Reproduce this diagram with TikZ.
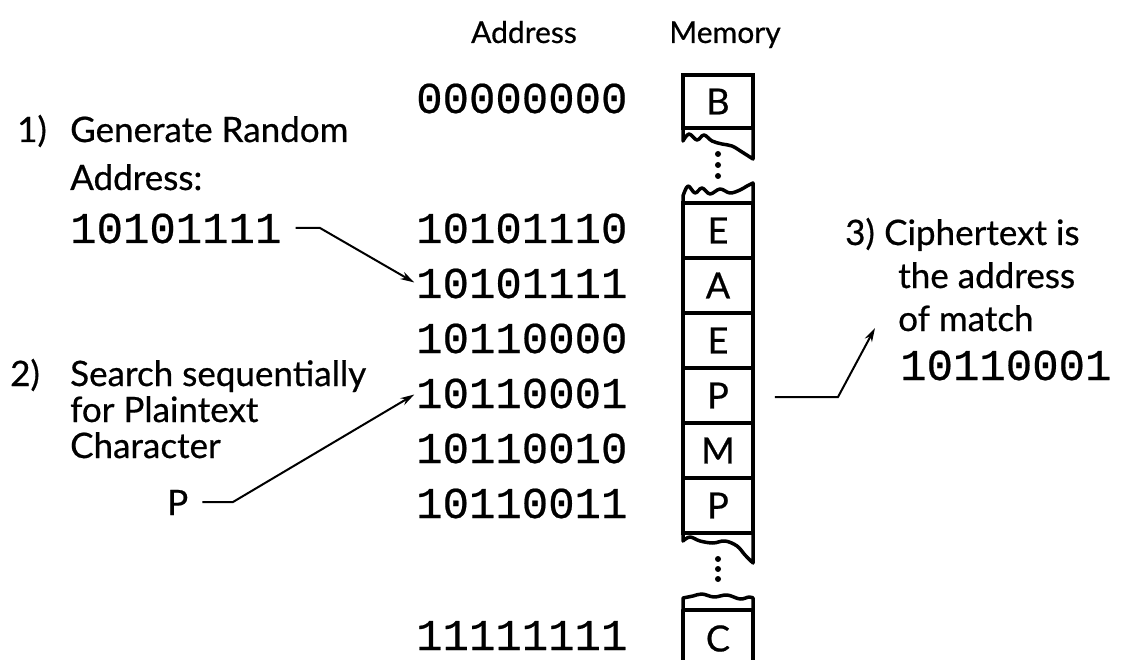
\documentclass[tikz,border=0pt]{standalone}
\usepackage{fontspec}
\setmainfont{Lato}[FakeBold=0.6]
\newfontfamily\digitfont{Liberation Mono}[FakeBold=0.5]
\usetikzlibrary{arrows.meta}

\begin{document}
\begin{tikzpicture}[x=1pt, y=-1pt,
    cell/.style={rectangle, draw, line width=3.5pt, minimum width=70pt,
                 minimum height=55pt, inner sep=0pt, font=\fontsize{36}{40}\selectfont},
    adr/.style={anchor=base west, inner sep=0pt, font=\digitfont\fontsize{44}{48}\selectfont},
    txt/.style={anchor=base west, inner sep=0pt, font=\fontsize{35}{40}\selectfont},
    head/.style={anchor=base, inner sep=0pt, font=\fontsize{30}{34}\selectfont},
    arr/.style={-{Stealth[length=14pt, width=8pt]}, line width=2pt},
    brk/.style={line width=3.5pt, line join=round},
    dot/.style={circle, fill, inner sep=0pt, minimum size=6pt},
  ]
  \useasboundingbox (0,0) rectangle (1124,660);

  % === headers ===
  \node[head] (hadr) at (524,43) {Address};
  \node[head] (hmem) at (725,43) {Memory};

  % === address column ===
  \node[adr] (a0) at (416,113) {00000000};
  \node[adr] (a1) at (416,243) {10101110};
  \node[adr] (a2) at (416,298) {10101111};
  \node[adr] (a3) at (416,353) {10110000};
  \node[adr] (a4) at (416,408) {10110001};
  \node[adr] (a5) at (416,463) {10110010};
  \node[adr] (a6) at (416,518) {10110011};
  \node[adr] (a7) at (416,650) {11111111};

  % === memory column ===
  \node[cell, minimum height=53pt] (mB) at (718,101.5) {B};
  \node[cell] (mE1) at (718,230.5) {E};
  \node[cell] (mA)  at (718,285.5) {A};
  \node[cell] (mE2) at (718,340.5) {E};
  \node[cell] (mP1) at (718,395.5) {P};
  \node[cell] (mM)  at (718,450.5) {M};
  \node[cell] (mP2) at (718,505.5) {P};
  \node[font=\fontsize{36}{40}\selectfont, inner sep=0pt] (mC) at (718,638.5) {C};
  \draw[brk] (683,660) |- (753,610) -- (753,660);

  % torn breaks
  \draw[brk] (683,128) -- (683,141) -- plot[smooth, tension=0.6] coordinates
    {(683,141) (689,134) (697,140) (704,135) (712,141) (722,144) (732,146) (742,152) (753,159)}
    -- (753,128);
  \node[dot] (d1) at (718,154) {};
  \node[dot] (d2) at (718,165) {};
  \node[dot] (d3) at (718,176) {};
  \draw[brk] (683,203) -- (683,196) -- plot[smooth, tension=0.6] coordinates
    {(683,196) (688,186) (695,193) (702,188) (710,194) (720,189) (730,193) (740,190) (747,186) (753,183)}
    -- (753,203);

  \draw[brk] (683,533) -- (683,541) -- plot[smooth, tension=0.6] coordinates
    {(683,541) (690,537) (700,541) (713,543) (725,541) (737,546) (745,555) (753,563)}
    -- (753,533);
  \node[dot] (d4) at (718,559) {};
  \node[dot] (d5) at (718,569) {};
  \node[dot] (d6) at (718,579) {};
  \draw[brk] (683,610) -- (683,598) -- plot[smooth, tension=0.6] coordinates
    {(683,598) (693,596) (702,594) (714,597) (727,595) (740,599) (749,597) (753,598)}
    -- (753,610);

  % === step 1 ===
  \node[txt] (n1) at (17,142) {1)};
  \node[txt] (t1a) at (70,142) {Generate Random};
  \node[txt] (t1b) at (70,190) {Address:};
  \node[adr] (rnd) at (70,243) {10101111};
  \coordinate (k1) at (320,228);
  \draw[arr, shorten >=2pt] ([xshift=14pt]rnd.east |- k1) -- (k1) -- (a2.west);

  % === step 2 ===
  \node[txt] (n2) at (10,386) {2)};
  \node[txt] (t2a) at (70,386) {Search sequentially};
  \node[txt] (t2b) at (70,422) {for Plaintext};
  \node[txt] (t2c) at (70,458) {Character};
  \node[txt] (plain) at (167,515) {P};
  \coordinate (k2) at (233,502);
  \draw[arr, shorten >=2pt] ([xshift=14pt]plain.east |- k2) -- (k2) -- (a4.west);

  % === step 3 ===
  \node[txt] (n3) at (845,245) {3)};
  \node[txt] (t3a) at (884,245) {Ciphertext is};
  \node[txt] (t3b) at (898,288) {the address};
  \node[txt] (t3c) at (898,331) {of match};
  \node[adr] (ct) at (900,380) {10110001};
  \coordinate (k3) at (838,397);
  \coordinate (tip3) at (875,328);
  \draw[arr] ([xshift=20pt]mP1.east |- k3) -- (k3) -- (tip3);

\end{tikzpicture}
\end{document}
